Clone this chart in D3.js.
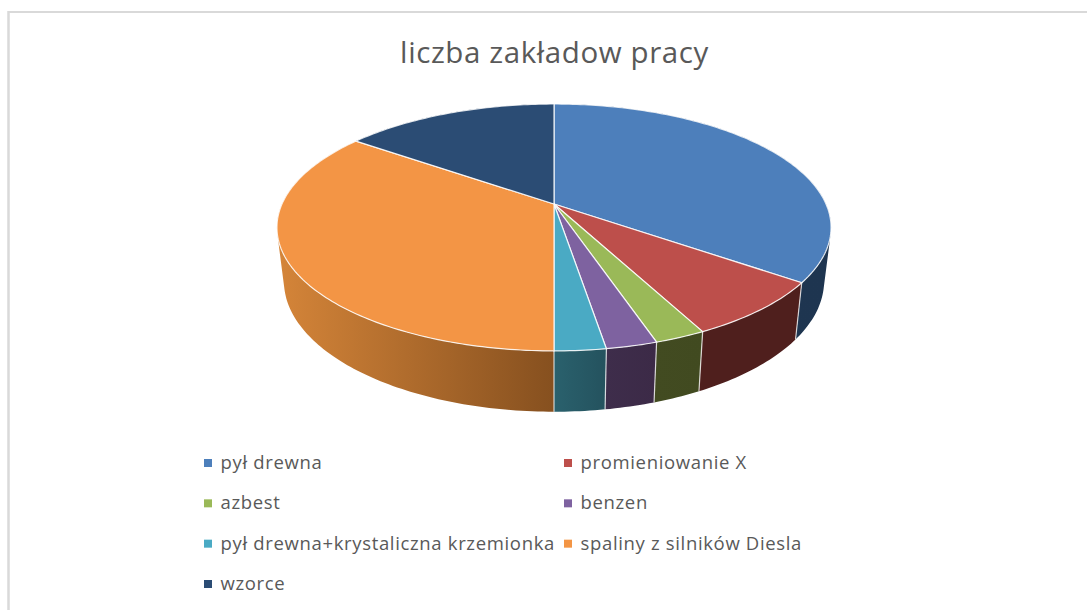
<!DOCTYPE html>
<html>
<head>
<meta charset="utf-8">
<script src="https://cdn.jsdelivr.net/npm/d3@7"></script>
<style>
  html, body { margin: 0; padding: 0; background: #ffffff; }
  text { font-family: "Open Sans", sans-serif; fill: #595959; }
</style>
</head>
<body>
<div id="chart"></div>
<script>
var title = "liczba zakładow pracy"
var categories = ["pył drewna", "promieniowanie X", "azbest", "benzen", "pył drewna+krystaliczna krzemionka", "spaliny z silników Diesla", "wzorce"]
var values = [14, 3, 1, 1, 1, 14, 6]

var topColors = ["#4d7fbb", "#bd4f4b", "#9ab958", "#7e62a0", "#4aaac4", "#f39545", "#2b4c74"]
var sideLeft = ["#1f3751", "#4f1f1d", "#424b21", "#3e2d4b", "#2a616d", "#d58539", "#1f3751"]
var sideRight = ["#1e3550", "#4f1f1d", "#414a20", "#3c2a47", "#24525e", "#86501f", "#1e3550"]

var width = 1087, height = 610

var svg = d3.select("#chart")
  .append("svg")
  .attr("width", width)
  .attr("height", height)

// frame, only top and left show up in the crop
svg.append("line").attr("x1", 8).attr("y1", 12).attr("x2", width).attr("y2", 12)
  .style("stroke", "#d9d9d9").style("stroke-width", 2)
svg.append("line").attr("x1", 8.5).attr("y1", 11).attr("x2", 8.5).attr("y2", height)
  .style("stroke", "#d9d9d9").style("stroke-width", 2.5)

svg.append("text")
  .attr("x", 554.5)
  .attr("y", 63)
  .attr("text-anchor", "middle")
  .style("font-size", "29.5px")
  .style("letter-spacing", "0.6px")
  .text(title)

// perspective pie: circle of radius 1 goes through a projective map
var cx = 554, cy = 204
var persp = -0.19, ya = 119, xd = 272
function flat(angle) {
  var u = Math.sin(angle), v = -Math.cos(angle)
  var w = 1 + persp * v
  return { x: xd * u / w, y: ya * v / w }
}
var topX = d3.scaleLinear().domain([0, 1]).range([cx, cx + 1])
var topY = d3.scaleLinear().domain([0, 1]).range([cy, cy + 1])
var botX = d3.scaleLinear().domain([0, 1]).range([cx, cx + 0.975])
var botY = d3.scaleLinear().domain([0, 1]).range([256, 256 + 1.06])

var pie = d3.pie().sort(null).value(function(d) { return d })
var slices = pie(values)
var color = d3.scaleOrdinal().domain(categories).range(topColors)
var line = d3.line().x(function(d) { return d[0] }).y(function(d) { return d[1] })

function samples(s) {
  var n = Math.max(2, Math.ceil((s.endAngle - s.startAngle) * 60))
  return d3.range(n + 1).map(function(i) {
    return flat(s.startAngle + (s.endAngle - s.startAngle) * i / n)
  })
}

var defs = svg.append("defs")
slices.forEach(function(s, i) {
  var g = defs.append("linearGradient").attr("id", "side" + i)
  g.append("stop").attr("offset", "0%").attr("stop-color", sideLeft[i])
  g.append("stop").attr("offset", "100%").attr("stop-color", sideRight[i])
})

// walls are little quads so the bit at the silhouette gets filled too.
// all wound the same way, otherwise front and back quads cancel out
svg.append("g")
  .selectAll("path")
  .data(slices)
  .enter()
  .append("path")
  .attr("d", function(s) {
    var pts = samples(s)
    return d3.range(pts.length - 1).map(function(k) {
      var a = pts[k], b = pts[k + 1]
      var quad = [
        [topX(a.x), topY(a.y)], [topX(b.x), topY(b.y)],
        [botX(b.x), botY(b.y)], [botX(a.x), botY(a.y)]
      ]
      if (d3.polygonArea(quad) < 0) quad.reverse()
      return line(quad) + "Z"
    }).join("")
  })
  .style("fill", function(s, i) { return "url(#side" + i + ")" })

// seams between walls, front half only
svg.append("g")
  .selectAll("line")
  .data(slices.filter(function(s) { return Math.cos(s.endAngle) < 0 }))
  .enter()
  .append("line")
  .attr("x1", function(s) { return topX(flat(s.endAngle).x) })
  .attr("y1", function(s) { return topY(flat(s.endAngle).y) })
  .attr("x2", function(s) { return botX(flat(s.endAngle).x) })
  .attr("y2", function(s) { return botY(flat(s.endAngle).y) })
  .style("stroke", "#ffffff")
  .style("stroke-opacity", 0.75)
  .style("stroke-width", 1.2)

svg.append("g")
  .selectAll("path")
  .data(slices)
  .enter()
  .append("path")
  .attr("d", function(s) {
    var upper = samples(s).map(function(p) { return [topX(p.x), topY(p.y)] })
    return line([[topX(0), topY(0)]].concat(upper)) + "Z"
  })
  .style("fill", function(s, i) { return color(categories[i]) })
  .style("stroke", "#ffffff")
  .style("stroke-opacity", 0.85)
  .style("stroke-width", 1.2)

// legend, two columns
var legendX = d3.scaleOrdinal().domain([0, 1]).range([204, 564])
var legendY = d3.scalePoint().domain([0, 1, 2, 3]).range([463, 584])

var legend = svg.append("g")
  .selectAll("g")
  .data(categories)
  .enter()
  .append("g")
  .attr("transform", function(d, i) {
    return "translate(" + legendX(i % 2) + "," + legendY(Math.floor(i / 2)) + ")"
  })

legend.append("rect")
  .attr("x", 0)
  .attr("y", -4)
  .attr("width", 8)
  .attr("height", 8)
  .style("fill", function(d) { return color(d) })

legend.append("text")
  .attr("x", 16.5)
  .attr("y", 6)
  .style("font-size", "18.5px")
  .style("letter-spacing", "0.66px")
  .text(function(d) { return d })
</script>
</body>
</html>
